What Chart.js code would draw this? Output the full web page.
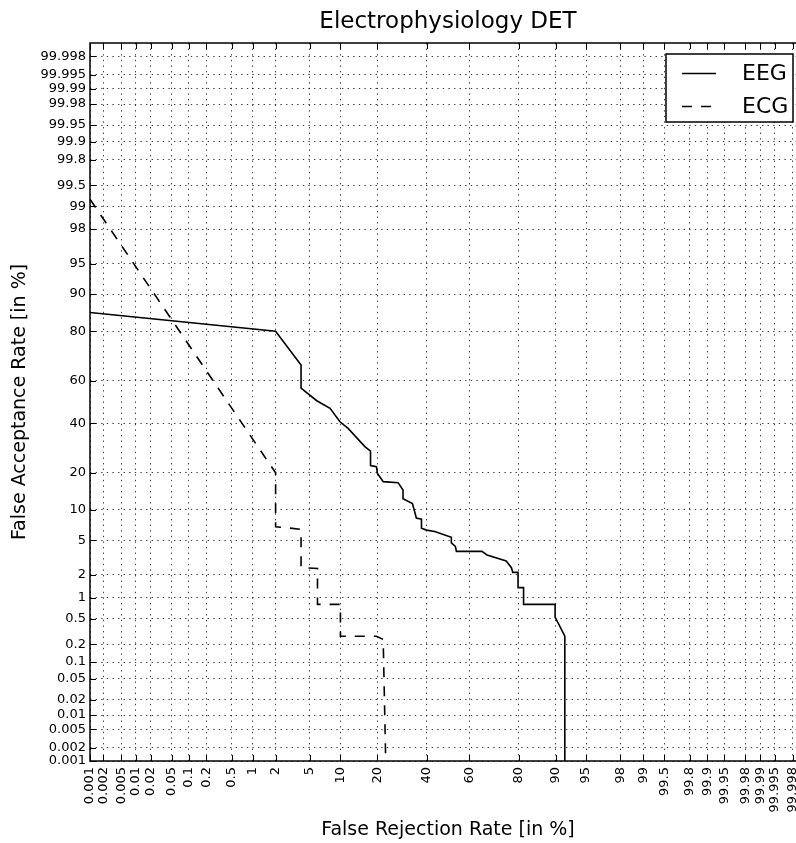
<!DOCTYPE html>
<html>
<head>
<meta charset="utf-8">
<title>Electrophysiology DET</title>
<script src="https://cdn.jsdelivr.net/npm/chart.js@4/dist/chart.umd.min.js"></script>
<style>
    html, body { margin: 0; padding: 0; background: #fff; overflow: hidden; }
    canvas { display: block; }
</style>
</head>
<body>
<canvas id="det-chart" width="812" height="843"></canvas>
<script>
// DET curves, all rates in percent
const eegFrr = [0.001, 2, 4, 4, 5.9, 8.0, 9.9, 11.7, 16.1, 17.8, 17.8, 19.7, 20, 22, 27.6, 29.6, 29.6, 33.6, 35.3, 37.6,
                37.6, 39.9, 43.7, 51.6, 51.6, 53.5, 54, 65.7, 67.9, 75.6, 77.5, 78, 79.8, 79.8, 81.6, 81.6, 89.9, 89.9, 91.8, 91.8];
const eegFar = [85.6, 80, 67, 56.5, 50.6, 47, 40.7, 37.7, 29.8, 28, 22.5, 22.1, 19.9, 17.2, 16.9, 14.8, 12.5, 11.4, 8.4, 8.2,
                6.7, 6.4, 6.2, 5.4, 4.7, 4.3, 3.8, 3.8, 3.46, 2.95, 2.45, 2.15, 2.15, 1.37, 1.37, 0.81, 0.81, 0.53, 0.27, 0.001];

const ecgFrr = [0.001, 2, 2, 3.0, 4, 4, 6.0, 6.0, 10, 10, 19.7, 22, 22.9];
const ecgFar = [99.2, 20, 6.9, 6.7, 6.5, 2.45, 2.4, 0.81, 0.81, 0.27, 0.27, 0.24, 0.001];

const tickValues = [0.001, 0.002, 0.005, 0.01, 0.02, 0.05, 0.1, 0.2, 0.5, 1, 2, 5, 10, 20, 40, 60, 80, 90,
                    95, 98, 99, 99.5, 99.8, 99.9, 99.95, 99.98, 99.99, 99.995, 99.998];
const axisMin = 0.001;
const axisMax = 99.999;

// inverse standard normal CDF (Acklam's rational approximation)
function normPpf(p) {
    const a = [-3.969683028665376e+01, 2.209460984245205e+02, -2.759285104469687e+02, 1.383577518672690e+02, -3.066479806614716e+01, 2.506628277459239e+00];
    const b = [-5.447609879822406e+01, 1.615858368580409e+02, -1.556989798598866e+02, 6.680131188771972e+01, -1.328068155288572e+01];
    const c = [-7.784894002430293e-03, -3.223964580411365e-01, -2.400758277161838e+00, -2.549732539343734e+00, 4.374664141464968e+00, 2.938163982698783e+00];
    const d = [7.784695709041462e-03, 3.224671290700398e-01, 2.445134137142996e+00, 3.754408661907416e+00];
    const pLow = 0.02425;
    if (p <= 0) return -Infinity;
    if (p >= 1) return Infinity;
    let q, r;
    if (p < pLow) {
        q = Math.sqrt(-2 * Math.log(p));
        return (((((c[0] * q + c[1]) * q + c[2]) * q + c[3]) * q + c[4]) * q + c[5]) /
               ((((d[0] * q + d[1]) * q + d[2]) * q + d[3]) * q + 1);
    }
    if (p <= 1 - pLow) {
        q = p - 0.5;
        r = q * q;
        return (((((a[0] * r + a[1]) * r + a[2]) * r + a[3]) * r + a[4]) * r + a[5]) * q /
               (((((b[0] * r + b[1]) * r + b[2]) * r + b[3]) * r + b[4]) * r + 1);
    }
    q = Math.sqrt(-2 * Math.log(1 - p));
    return -(((((c[0] * q + c[1]) * q + c[2]) * q + c[3]) * q + c[4]) * q + c[5]) /
            ((((d[0] * q + d[1]) * q + d[2]) * q + d[3]) * q + 1);
}

function normCdf(z) {
    const t = 1 / (1 + 0.3275911 * Math.abs(z) / Math.SQRT2);
    const erf = 1 - (((((1.061405429 * t - 1.453152027) * t) + 1.421413741) * t - 0.284496736) * t + 0.254829592) * t * Math.exp(-z * z / 2);
    return z >= 0 ? (1 + erf) / 2 : (1 - erf) / 2;
}

// normal deviate axis, values given in percent
class ProbitScale extends Chart.Scale {
    determineDataLimits() {
        this.min = axisMin;
        this.max = axisMax;
    }
    buildTicks() {
        return tickValues.map(value => ({ value }));
    }
    getLabelForValue(value) {
        return String(value);
    }
    configure() {
        super.configure();
        this._zStart = normPpf(this.min / 100);
        this._zRange = normPpf(this.max / 100) - this._zStart;
    }
    getPixelForValue(value) {
        const z = Math.max(-8, Math.min(8, normPpf(value / 100)));
        return this.getPixelForDecimal((z - this._zStart) / this._zRange);
    }
    getValueForPixel(pixel) {
        return 100 * normCdf(this._zStart + this.getDecimalForPixel(pixel) * this._zRange);
    }
}
ProbitScale.id = 'probit';
ProbitScale.defaults = {};
Chart.register(ProbitScale);

const fontFamily = 'DejaVu Sans';
const tickFont = { family: fontFamily, size: 13 };
const axisTitleFont = { family: fontFamily, size: 19 };

// box around the axes, inward ticks and the legend
const detFrame = {
    id: 'detFrame',
    afterDraw(chart) {
        const { ctx, chartArea: { left, right, top, bottom }, scales: { x, y } } = chart;
        ctx.save();
        ctx.strokeStyle = '#000';
        ctx.lineWidth = 1;
        ctx.beginPath();
        x.ticks.forEach((t, i) => {
            const px = Math.round(x.getPixelForTick(i)) + 0.5;
            ctx.moveTo(px, bottom);
            ctx.lineTo(px, bottom - 6);
            ctx.moveTo(px, top);
            ctx.lineTo(px, top + 6);
        });
        y.ticks.forEach((t, i) => {
            const py = Math.round(y.getPixelForTick(i)) + 0.5;
            ctx.moveTo(left, py);
            ctx.lineTo(left + 6, py);
            ctx.moveTo(right, py);
            ctx.lineTo(right - 6, py);
        });
        ctx.stroke();

        ctx.lineWidth = 1.5;
        ctx.strokeRect(left, top, right - left, bottom - top);

        const boxW = 127, boxH = 68;
        const boxX = right - 13 - boxW;
        const boxY = top + 11;
        ctx.fillStyle = '#fff';
        ctx.fillRect(boxX, boxY, boxW, boxH);
        ctx.strokeRect(boxX, boxY, boxW, boxH);

        ctx.font = '22px "' + fontFamily + '"';
        ctx.textBaseline = 'middle';
        ctx.textAlign = 'left';
        ctx.fillStyle = '#000';
        chart.data.datasets.forEach((ds, i) => {
            const rowY = boxY + 19.5 + i * 33;
            ctx.setLineDash(ds.borderDash || []);
            ctx.lineWidth = ds.borderWidth;
            ctx.beginPath();
            ctx.moveTo(boxX + 16, rowY);
            ctx.lineTo(boxX + 50, rowY);
            ctx.stroke();
            ctx.setLineDash([]);
            ctx.fillText(ds.label, boxX + 76, rowY + 1);
        });
        ctx.restore();
    }
};

const ctx = document.getElementById('det-chart');

new Chart(ctx, {
    type: 'line',
    data: {
        datasets: [
            {
                label: 'EEG',
                data: eegFrr.map((v, i) => ({ x: v, y: eegFar[i] })),
                borderColor: '#000',
                borderWidth: 1.6,
                pointRadius: 0,
                fill: false,
                tension: 0
            },
            {
                label: 'ECG',
                data: ecgFrr.map((v, i) => ({ x: v, y: ecgFar[i] })),
                borderColor: '#000',
                borderWidth: 1.6,
                borderDash: [10, 9],
                pointRadius: 0,
                fill: false,
                tension: 0
            }
        ]
    },
    options: {
        responsive: false,
        animation: false,
        events: [],
        layout: { padding: { left: 0, right: 6, top: 0, bottom: 0 } },
        plugins: {
            legend: { display: false },
            tooltip: { enabled: false },
            title: {
                display: true,
                text: 'Electrophysiology DET',
                fullSize: false,
                color: '#000',
                font: { family: fontFamily, size: 23, weight: 'normal' },
                padding: { top: 8, bottom: 7.4 }
            }
        },
        scales: {
            x: {
                type: 'probit',
                position: 'bottom',
                afterFit: scale => {
                    scale.height = 82;
                    scale.paddingLeft = 0;
                    scale.paddingRight = 0;
                },
                grid: { color: 'rgba(0,0,0,0.75)', lineWidth: 1, drawTicks: false },
                border: { display: false, dash: [1.4, 4.2] },
                ticks: {
                    autoSkip: false,
                    minRotation: 90,
                    maxRotation: 90,
                    padding: 6,
                    color: '#000',
                    font: tickFont,
                    callback: v => String(v)
                },
                title: {
                    display: true,
                    text: 'False Rejection Rate [in %]',
                    color: '#000',
                    font: axisTitleFont,
                    padding: { top: 0, bottom: 1.5 }
                }
            },
            y: {
                type: 'probit',
                position: 'left',
                afterFit: scale => {
                    scale.width = 90;
                    scale.paddingTop = 0;
                    scale.paddingBottom = 0;
                },
                grid: { color: 'rgba(0,0,0,0.75)', lineWidth: 1, drawTicks: false },
                border: { display: false, dash: [1.4, 4.2] },
                ticks: {
                    autoSkip: false,
                    padding: 4,
                    color: '#000',
                    font: tickFont,
                    callback: v => String(v)
                },
                title: {
                    display: true,
                    text: 'False Acceptance Rate [in %]',
                    color: '#000',
                    font: axisTitleFont,
                    padding: { top: 9, bottom: 0 }
                }
            }
        }
    },
    plugins: [detFrame]
});
</script>
</body>
</html>
